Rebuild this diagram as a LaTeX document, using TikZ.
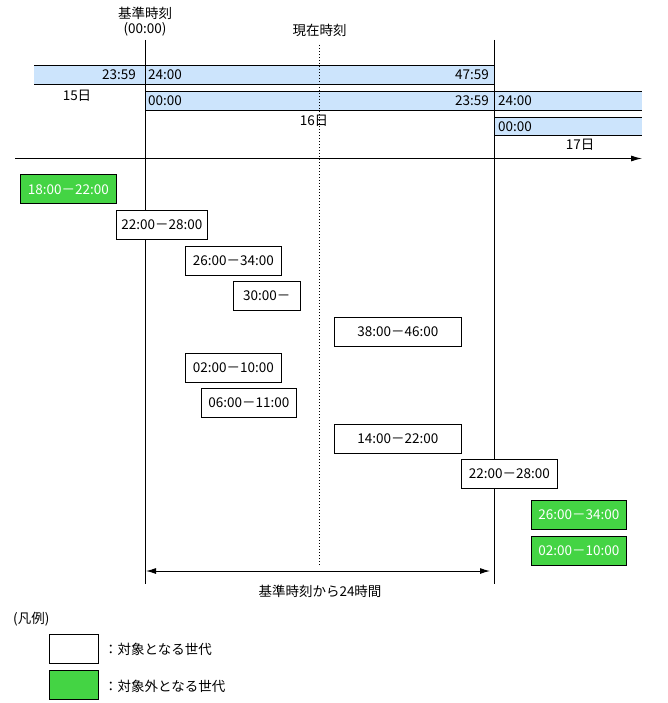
\documentclass[tikz,border=0pt]{standalone}
\usepackage{fontspec}
\setmainfont{Noto Sans CJK JP}
\usetikzlibrary{arrows.meta}
\definecolor{barblue}{HTML}{CCE4FC}
\definecolor{boxgreen}{HTML}{44D444}
\tikzset{
  ln/.style={line width=1pt, black},
  barfill/.style={fill=barblue, draw=none},
  txt/.style={font=\fontsize{13.5}{15}\selectfont, inner sep=0pt},
  wbox/.style={draw=black, line width=1pt, fill=white, inner sep=0pt, font=\fontsize{13.5}{15}\selectfont},
  gbox/.style={draw=black, line width=1pt, fill=boxgreen, text=white, inner sep=0pt, font=\fontsize{13.5}{15}\selectfont},
  dotline/.style={line width=0.8pt, dash pattern=on 1pt off 2pt},
}
\begin{document}
\begin{tikzpicture}[x=1pt,y=-1pt]
\useasboundingbox (0,0) rectangle (667,703);
% coordinates
\coordinate (vlt) at (145,40);
\coordinate (vlb) at (145,584);
\coordinate (vrt) at (494,40);
\coordinate (vrb) at (494,584);
\coordinate (dt) at (319.5,45);
\coordinate (db) at (319.5,566);
\coordinate (axs) at (15,158.5);
\coordinate (axe) at (642,158.5);
\coordinate (ra) at (146,571);
\coordinate (rb) at (490,571);
% bars fill
\fill[barfill] (34,65.5) rectangle (494,84.5);
\fill[barfill] (145,91.5) rectangle (642,110.5);
\fill[barfill] (494,117.5) rectangle (642,136);
% dotted current time
\draw[dotline] (dt) -- (db);
% bar lines
\draw[ln] (34,65.5) -- (494,65.5);
\draw[ln] (34,84.5) -- (494,84.5);
\draw[ln] (145,91.5) -- (642,91.5);
\draw[ln] (145,110.5) -- (642,110.5);
\draw[ln] (494,117.5) -- (642,117.5);
\draw[ln] (494,136) -- (642,136);
% vertical lines
\draw[ln] (vlt) -- (vlb);
\draw[ln] (vrt) -- (vrb);
% axis
\draw[ln, -{Latex[length=11pt,width=6pt]}] (axs) -- (axe);
% titles
\node[txt] (t1) at (145,13) {基準時刻};
\node[txt] (t2) at (145,29) {(00:00)};
\node[txt] (t3) at (319.5,30) {現在時刻};
% bar texts
\node[txt, anchor=east] (b1a) at (136,75) {23:59};
\node[txt, anchor=west] (b1b) at (148,75) {24:00};
\node[txt, anchor=east] (b1c) at (489,75) {47:59};
\node[txt, anchor=west] (b2a) at (148,101) {00:00};
\node[txt, anchor=east] (b2b) at (489,101) {23:59};
\node[txt, anchor=west] (b2c) at (498,101) {24:00};
\node[txt, anchor=west] (b3a) at (498,127) {00:00};
\node[txt] (d15) at (77,96) {15日};
\node[txt] (d16) at (314,121) {16日};
\node[txt] (d17) at (580,145) {17日};
% generation boxes
\node[gbox, minimum width=96pt, minimum height=29pt] (g1) at (68.3,189.5) {18:00－22:00};
\node[wbox, minimum width=91pt, minimum height=29pt] (w1) at (161.8,224.8) {22:00－28:00};
\node[wbox, minimum width=96pt, minimum height=29pt] (w2) at (233.3,260.8) {26:00－34:00};
\node[wbox, minimum width=67pt, minimum height=29pt] (w3) at (266.8,295.8) {30:00－};
\node[wbox, minimum width=127pt, minimum height=29pt] (w4) at (397.8,331.8) {38:00－46:00};
\node[wbox, minimum width=96pt, minimum height=29pt] (w5) at (233.3,367.5) {02:00－10:00};
\node[wbox, minimum width=95pt, minimum height=29pt] (w6) at (248.8,402.8) {06:00－11:00};
\node[wbox, minimum width=127pt, minimum height=29pt] (w7) at (397.8,438.8) {14:00－22:00};
\node[wbox, minimum width=96pt, minimum height=29pt] (w8) at (509.3,473.8) {22:00－28:00};
\node[gbox, minimum width=95pt, minimum height=29pt] (g2) at (578.8,514.8) {26:00－34:00};
\node[gbox, minimum width=95pt, minimum height=29pt] (g3) at (578.8,550.8) {02:00－10:00};
% 24h range
\draw[ln, {Latex[length=10pt,width=6pt]}-{Latex[length=10pt,width=6pt]}] (ra) -- (rb);
\node[txt] (rl) at (320,591) {基準時刻から24時間};
% legend
\node[txt, anchor=west] (lg) at (13,619) {(凡例)};
\node[wbox, minimum width=49pt, minimum height=29pt] (lw) at (73.8,648.7) {};
\node[gbox, minimum width=49pt, minimum height=29pt] (lgn) at (73.8,684.7) {};
\node[txt, anchor=west] (lwt) at (104,649) {：対象となる世代};
\node[txt, anchor=west] (lgt) at (104,686) {：対象外となる世代};
\end{tikzpicture}
\end{document}
